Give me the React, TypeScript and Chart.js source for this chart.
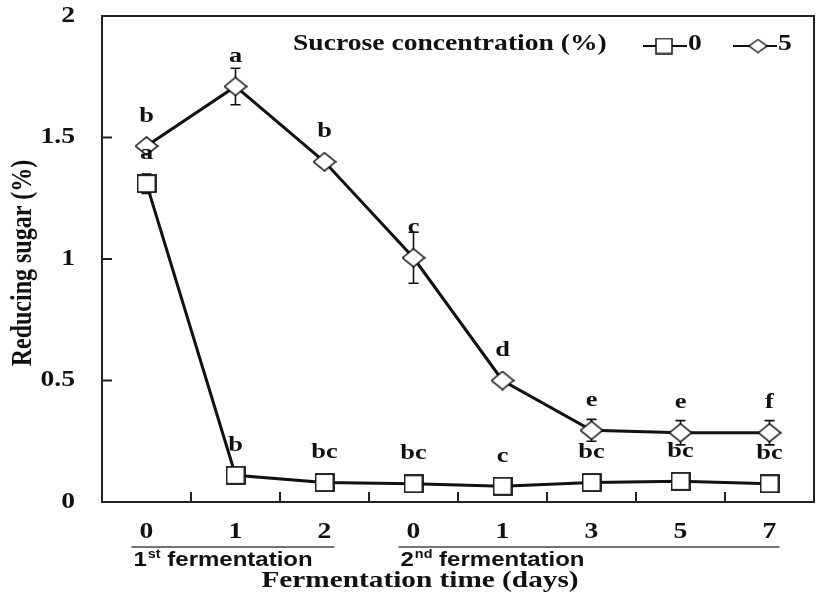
import { useEffect, useRef } from 'react';
import { Chart, registerables } from 'chart.js';

Chart.register(...registerables);

// ---------- data ----------
const categories = ['0', '1', '2', '0', '1', '3', '5', '7'];
const sucrose0 = [1.31, 0.11, 0.08, 0.075, 0.065, 0.08, 0.085, 0.075];
const sucrose0Err = [0.04, 0.01, 0.01, 0.01, 0.01, 0.01, 0.01, 0.01];
const sucrose5 = [1.465, 1.71, 1.4, 1.005, 0.5, 0.295, 0.285, 0.285];
const sucrose5Err = [0.01, 0.075, 0.02, 0.105, 0.01, 0.045, 0.05, 0.05];
const letters0 = ['a', 'b', 'bc', 'bc', 'c', 'bc', 'bc', 'bc'];
const letters5 = ['b', 'a', 'b', 'c', 'd', 'e', 'e', 'f'];
const yTickValues = [0, 0.5, 1, 1.5, 2];
const yTickLabels = ['0', '0.5', '1', '1.5', '2'];
const phaseNames = ['1st', '2nd'];
const phaseStart = [0, 3];
const phaseEnd = [2, 7];
const seriesNames = ['0', '5'];
const legendTitle = 'Sucrose concentration (%)';
const xTitle = 'Fermentation time (days)';
const yTitle = 'Reducing sugar (%)';

const SERIF = '"Liberation Serif", "Times New Roman", serif';
const SANS = '"Liberation Sans", Arial, sans-serif';
const INK = '#111';
const SX = 1.2;

function txt(
  ctx: CanvasRenderingContext2D,
  s: string,
  x: number,
  y: number,
  font: string,
  align: 'left' | 'center' | 'right',
  sx = SX
) {
  ctx.save();
  ctx.font = font;
  ctx.textBaseline = 'middle';
  ctx.textAlign = 'left';
  ctx.fillStyle = INK;
  const w = ctx.measureText(s).width * sx;
  const x0 = align === 'left' ? x : align === 'center' ? x - w / 2 : x - w;
  ctx.translate(x0, y);
  ctx.scale(sx, 1);
  ctx.fillText(s, 0, 0);
  ctx.restore();
  return w;
}

function makeSquare(w: number, h: number, lw: number) {
  const c = document.createElement('canvas');
  c.width = w + 2;
  c.height = h + 2;
  const g = c.getContext('2d')!;
  g.fillStyle = '#fff';
  g.strokeStyle = INK;
  g.lineWidth = lw;
  g.fillRect(1, 1, w, h);
  g.strokeRect(1, 1, w, h);
  return c;
}

function makeDiamond(w: number, h: number, lw: number) {
  const c = document.createElement('canvas');
  c.width = w + 2;
  c.height = h + 2;
  const g = c.getContext('2d')!;
  g.fillStyle = '#fff';
  g.strokeStyle = INK;
  g.lineWidth = lw;
  g.beginPath();
  g.moveTo(1, 1 + h / 2);
  g.lineTo(1 + w / 2, 1);
  g.lineTo(1 + w, 1 + h / 2);
  g.lineTo(1 + w / 2, 1 + h);
  g.closePath();
  g.fill();
  g.stroke();
  return c;
}

export default function App() {
  const ref = useRef<HTMLCanvasElement | null>(null);

  useEffect(() => {
    const canvas = ref.current;
    if (!canvas) return;

    const sq = makeSquare(18, 17, 1.8);
    const dm = makeDiamond(22, 18, 1.6);
    const sqSmall = makeSquare(16, 15, 1.5);
    const dmSmall = makeDiamond(18, 13, 1.4);

    const errorBars = {
      id: 'errorBars',
      beforeDatasetsDraw(chart: any) {
        const ctx = chart.ctx as CanvasRenderingContext2D;
        const y = chart.scales.y;
        const errs = [sucrose0Err, sucrose5Err];
        ctx.save();
        ctx.strokeStyle = INK;
        ctx.lineWidth = 1.6;
        chart.data.datasets.forEach((ds: any, di: number) => {
          const meta = chart.getDatasetMeta(di);
          meta.data.forEach((pt: any, i: number) => {
            const v = ds.data[i] as number;
            const e = errs[di][i];
            const yt = y.getPixelForValue(v + e);
            const yb = y.getPixelForValue(v - e);
            ctx.beginPath();
            ctx.moveTo(pt.x, yt);
            ctx.lineTo(pt.x, yb);
            ctx.moveTo(pt.x - 5, yt);
            ctx.lineTo(pt.x + 5, yt);
            ctx.moveTo(pt.x - 5, yb);
            ctx.lineTo(pt.x + 5, yb);
            ctx.stroke();
          });
        });
        ctx.restore();
      },
    };

    const decor = {
      id: 'decor',
      afterDraw(chart: any) {
        const ctx = chart.ctx as CanvasRenderingContext2D;
        const { left, right, top, bottom } = chart.chartArea;
        const xs = chart.scales.x;
        const ys = chart.scales.y;

        // frame
        ctx.save();
        ctx.strokeStyle = '#222';
        ctx.lineWidth = 2;
        ctx.strokeRect(left, top, right - left, bottom - top);

        // inward y ticks
        ctx.beginPath();
        yTickValues.forEach((v) => {
          const py = ys.getPixelForValue(v);
          ctx.moveTo(left, py);
          ctx.lineTo(left + 10, py);
        });
        // inward x ticks between categories
        for (let i = 0; i < categories.length - 1; i++) {
          const px = (xs.getPixelForValue(i) + xs.getPixelForValue(i + 1)) / 2;
          ctx.moveTo(px, bottom);
          ctx.lineTo(px, bottom - 10);
        }
        ctx.stroke();
        ctx.restore();

        // y tick labels
        yTickValues.forEach((v, i) => {
          txt(ctx, yTickLabels[i], left - 27, ys.getPixelForValue(v), `bold 23px ${SERIF}`, 'right');
        });
        // x tick labels
        categories.forEach((c, i) => {
          txt(ctx, c, xs.getPixelForValue(i), bottom + 30, `bold 23px ${SERIF}`, 'center');
        });

        // phase lines & labels
        ctx.save();
        ctx.strokeStyle = '#444';
        ctx.lineWidth = 1.3;
        phaseNames.forEach((p, k) => {
          const x0 = xs.getPixelForValue(phaseStart[k]) - 15;
          const x1 = xs.getPixelForValue(phaseEnd[k]) + 10;
          ctx.beginPath();
          ctx.moveTo(x0, bottom + 45);
          ctx.lineTo(x1, bottom + 45);
          ctx.stroke();
          const ly = bottom + 58;
          let cx = x0 + 2;
          cx += txt(ctx, p.slice(0, 1), cx, ly, `bold 20px ${SANS}`, 'left');
          cx += txt(ctx, p.slice(1), cx + 1, ly - 5, `bold 12px ${SANS}`, 'left') + 1;
          txt(ctx, ' fermentation', cx, ly, `bold 20px ${SANS}`, 'left');
        });
        ctx.restore();

        // x title
        txt(ctx, xTitle, (left + right) / 2 - 38, bottom + 79, `bold 24px ${SERIF}`, 'center', 1.22);

        // y title (rotated)
        ctx.save();
        ctx.translate(24, (top + bottom) / 2 + 4);
        ctx.rotate(-Math.PI / 2);
        ctx.scale(1, SX);
        ctx.font = `bold 24px ${SERIF}`;
        ctx.textAlign = 'center';
        ctx.textBaseline = 'middle';
        ctx.fillStyle = INK;
        ctx.fillText(yTitle, 0, 0);
        ctx.restore();

        // legend
        const lgY = 46;
        txt(ctx, legendTitle, 293, lgY - 2, `bold 23px ${SERIF}`, 'left');
        ctx.save();
        ctx.strokeStyle = INK;
        ctx.lineWidth = 2;
        ctx.beginPath();
        ctx.moveTo(643, lgY);
        ctx.lineTo(687, lgY);
        ctx.moveTo(733, lgY);
        ctx.lineTo(777, lgY);
        ctx.stroke();
        ctx.drawImage(sqSmall, 664 - sqSmall.width / 2, lgY - sqSmall.height / 2);
        ctx.drawImage(dmSmall, 758 - dmSmall.width / 2, lgY - dmSmall.height / 2);
        ctx.restore();
        txt(ctx, seriesNames[0], 688, lgY - 2, `bold 23px ${SERIF}`, 'left');
        txt(ctx, seriesNames[1], 778, lgY - 2, `bold 23px ${SERIF}`, 'left');

        // significance letters
        const sets = [letters0, letters5];
        sets.forEach((letters, di) => {
          const meta = chart.getDatasetMeta(di);
          meta.data.forEach((pt: any, i: number) => {
            txt(ctx, letters[i], pt.x, pt.y - 30, `bold 22px ${SERIF}`, 'center');
          });
        });
      },
    };

    const chart = new Chart(canvas, {
      type: 'line',
      data: {
        labels: categories,
        datasets: [
          {
            label: seriesNames[0],
            data: sucrose0,
            borderColor: INK,
            borderWidth: 3,
            pointStyle: sq as any,
            pointRadius: 10,
            tension: 0,
          },
          {
            label: seriesNames[1],
            data: sucrose5,
            borderColor: INK,
            borderWidth: 3,
            pointStyle: dm as any,
            pointRadius: 10,
            tension: 0,
          },
        ],
      },
      options: {
        responsive: false,
        animation: false,
        devicePixelRatio: 1,
        layout: { padding: { left: 0, right: 7, top: 16, bottom: 0 } },
        plugins: { legend: { display: false }, tooltip: { enabled: false } },
        scales: {
          x: {
            type: 'category',
            offset: true,
            grid: { display: false },
            border: { display: false },
            ticks: { display: false },
            afterFit: (s: any) => {
              s.height = 104;
            },
          },
          y: {
            min: 0,
            max: 2,
            grid: { display: false },
            border: { display: false },
            ticks: { display: false },
            afterFit: (s: any) => {
              s.width = 102;
            },
          },
        },
      },
      plugins: [errorBars, decor],
    });

    return () => chart.destroy();
  }, []);

  return (
    <div style={{ position: 'absolute', left: 0, top: 0, width: 827, height: 606, background: '#fff' }}>
      <canvas ref={ref} width={827} height={606} style={{ display: 'block' }} />
    </div>
  );
}
